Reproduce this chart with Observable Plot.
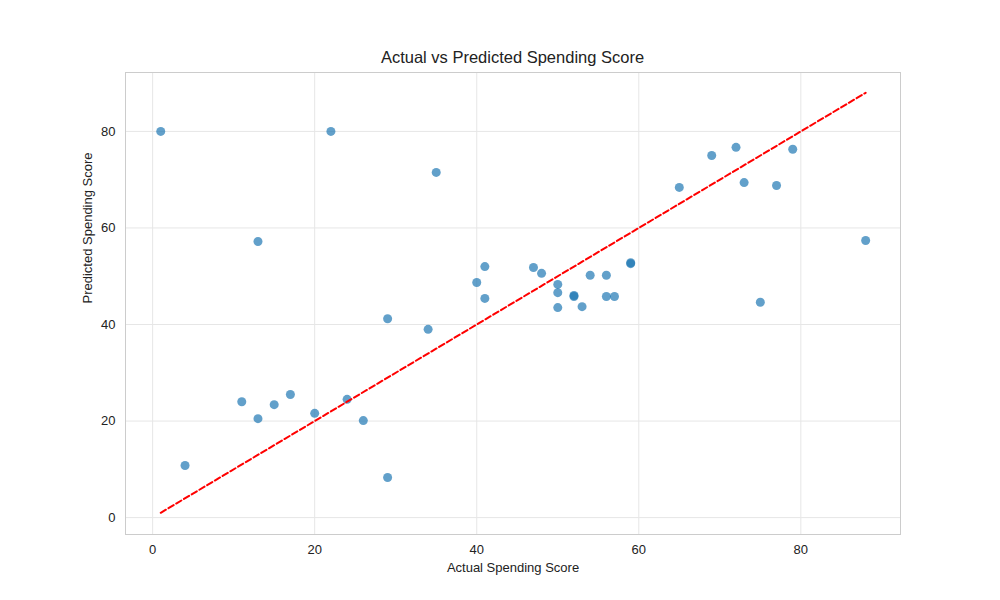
<!DOCTYPE html>
<html>
<head>
<meta charset="utf-8">
<script src="https://cdn.jsdelivr.net/npm/d3@7"></script>
<script src="https://cdn.jsdelivr.net/npm/@observablehq/plot@0.6"></script>
<style>
  body { margin: 0; background: #fff; font-family: "Liberation Sans", Arial, sans-serif; }
  #title { height: 72px; box-sizing: border-box; padding-top: 48px; text-align: center; font-size: 16.5px; color: #222; margin-left: 25px; width: 975px; }
</style>
</head>
<body>
<div id="title">Actual vs Predicted Spending Score</div>
<div id="chart"></div>
<script>
// actual vs predicted values
const actual = [1, 22, 35, 13, 4, 11, 13, 15, 17, 20, 24, 26, 29, 29, 34, 40, 41, 41, 47, 48,
  50, 50, 50, 52, 52, 53, 54, 56, 56, 57, 59, 59, 65, 69, 72, 73, 75, 77, 79, 88];
const predicted = [80, 80, 71.5, 57.2, 10.8, 24, 20.5, 23.4, 25.5, 21.6, 24.5, 20.1, 41.2, 8.3, 39, 48.7, 52, 45.4, 51.8, 50.6,
  48.3, 46.6, 43.5, 46, 45.8, 43.7, 50.2, 50.2, 45.8, 45.8, 52.8, 52.6, 68.4, 75, 76.7, 69.4, 44.6, 68.8, 76.3, 57.4];
const ticks = [0, 20, 40, 60, 80];

const points = actual.map((a, i) => ({actual: a, predicted: predicted[i]}));
const lo = d3.min(actual), hi = d3.max(actual);
const diag = [{v: lo}, {v: hi}];

const chart = Plot.plot({
  width: 1000,
  height: 528,
  marginLeft: 125,
  marginRight: 100,
  marginTop: 0,
  marginBottom: 66,
  style: {fontFamily: "Liberation Sans, Arial, sans-serif", fontSize: "13px", color: "#222"},
  x: {domain: [-3.35, 92.3], ticks: ticks, label: null},
  y: {domain: [-3.5, 92.2], ticks: ticks, label: null},
  marks: [
    Plot.gridX(ticks, {stroke: "#e6e6e6", strokeOpacity: 1}),
    Plot.gridY(ticks, {stroke: "#e6e6e6", strokeOpacity: 1}),
    Plot.frame({stroke: "#cccccc"}),
    Plot.axisX(ticks, {tickSize: 0, tickPadding: 10, fontSize: 13}),
    Plot.axisY(ticks, {tickSize: 0, tickPadding: 10, fontSize: 13}),
    Plot.dot(points, {x: "actual", y: "predicted", r: 4.5, fill: "#1f77b4", fillOpacity: 0.7, stroke: null}),
    Plot.line(diag, {x: "v", y: "v", stroke: "red", strokeWidth: 2, strokeDasharray: "6,3"}),
    Plot.text(["Actual Spending Score"], {frameAnchor: "bottom", dy: 37, fontSize: 13}),
    Plot.text(["Predicted Spending Score"], {frameAnchor: "left", dx: -38, rotate: -90, fontSize: 13})
  ]
});
document.getElementById("chart").append(chart);
</script>
</body>
</html>
